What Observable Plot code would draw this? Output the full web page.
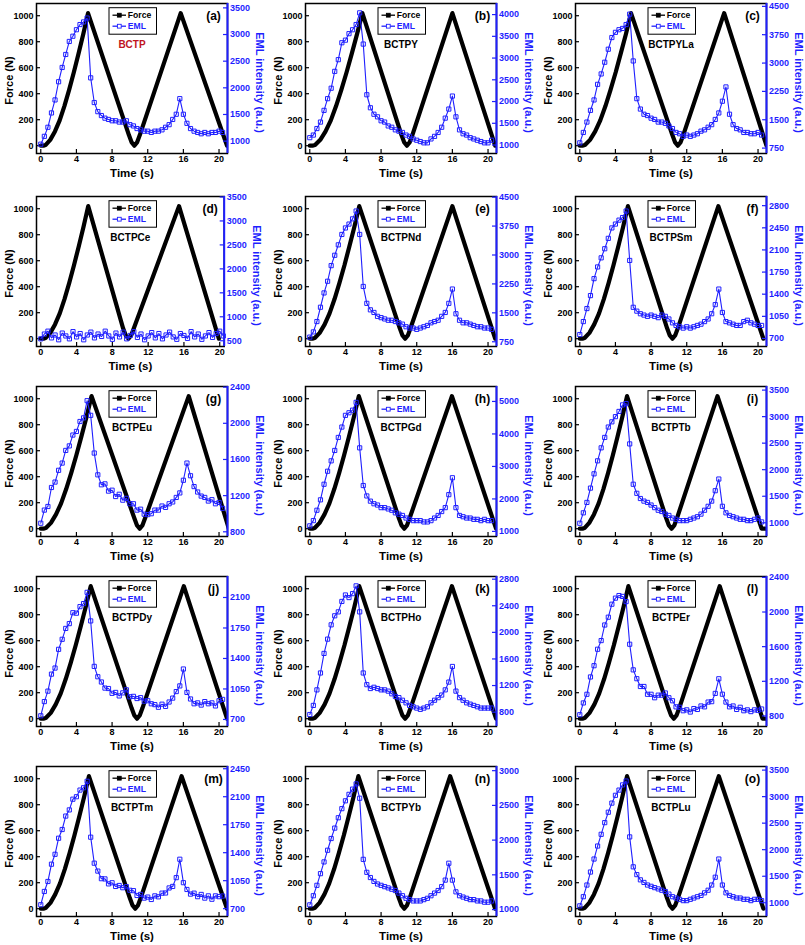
<!DOCTYPE html>
<html><head><meta charset="utf-8">
<script src="https://cdn.jsdelivr.net/npm/d3@7"></script>
<script src="https://cdn.jsdelivr.net/npm/@observablehq/plot@0.6"></script>
<style>
html,body{margin:0;padding:0;background:#fff;}
#fig{position:relative;width:805px;height:945px;overflow:hidden;background:#fff;}
.panel{position:absolute;}
.panel svg{position:absolute;left:0;top:0;}
</style></head><body><div id="fig"></div>
<script>
// ---------------- data ----------------
const panelIds = ["(a)","(b)","(c)","(d)","(e)","(f)","(g)","(h)","(i)","(j)","(k)","(l)","(m)","(n)","(o)"];
const sampleNames = ["BCTP","BCTPY","BCTPYLa","BCTPCe","BCTPNd","BCTPSm","BCTPEu","BCTPGd","BCTPTb","BCTPDy","BCTPHo","BCTPEr","BCTPTm","BCTPYb","BCTPLu"];
const timeTicks = [0,4,8,12,16,20];
const forceTicks = [0,200,400,600,800,1000];
const forceRange = [-60, 1094];

// EML sampling times (s)
const time = [0,0.4,0.8,1.2,1.6,2.0,2.4,2.8,3.2,3.6,4.0,4.4,4.8,5.2,5.6,6.0,6.4,6.8,7.2,7.6,8.0,8.4,8.8,9.2,9.6,10.0,10.4,10.8,11.2,11.6,12.0,12.4,12.8,13.2,13.6,14.0,14.4,14.8,15.2,15.6,16.0,16.4,16.8,17.2,17.6,18.0,18.4,18.8,19.2,19.6,20.0,20.4];

// EML intensity (a.u.)
const emlA = [943,1090,1260,1529,1773,2114,2382,2626,2870,2968,3090,3187,3236,3309,2187,1724,1553,1480,1431,1407,1382,1382,1358,1358,1382,1309,1285,1236,1212,1187,1187,1163,1187,1187,1212,1260,1309,1407,1504,1797,1504,1334,1236,1187,1163,1138,1163,1138,1163,1163,1187,1163];
const emlB = [1169,1229,1379,1528,1797,2066,2306,2694,2963,3352,3412,3561,3651,3771,4040,3322,2156,1857,1708,1648,1558,1528,1439,1409,1349,1319,1289,1229,1199,1140,1110,1080,1050,1050,1140,1199,1289,1409,1618,1827,2126,1648,1349,1259,1229,1169,1140,1110,1080,1050,1050,1110];
const emlC = [889,1164,1439,1749,2024,2437,2712,3022,3366,3675,3813,3882,3916,4019,4294,3056,2058,1783,1646,1611,1542,1508,1439,1439,1405,1336,1267,1164,1130,1061,1095,1061,1095,1130,1198,1233,1302,1370,1508,1680,1990,2368,1646,1370,1267,1233,1164,1164,1130,1130,1164,1095];
const emlD = [540,640,700,560,620,520,660,600,540,690,580,650,520,620,680,560,640,590,700,600,530,660,580,680,540,610,690,570,640,520,600,670,560,650,540,620,680,580,530,650,610,550,690,580,640,530,600,670,570,650,700,600];
const emlE = [870,1005,1274,1645,2016,2319,2724,2993,3263,3533,3701,3802,3937,4140,3533,2184,1746,1578,1510,1409,1375,1342,1308,1308,1274,1241,1207,1139,1106,1106,1072,1106,1139,1173,1241,1274,1308,1409,1510,1746,2117,1476,1308,1241,1241,1207,1173,1139,1139,1106,1106,1072];
const emlF = [762,967,1173,1378,1646,1831,1975,2119,2283,2448,2509,2571,2612,2715,1934,1193,1132,1091,1070,1050,1070,1050,1029,1070,1050,1008,947,906,885,864,885,864,885,906,926,967,1008,1091,1235,1481,1111,967,947,926,906,906,967,988,947,926,906,906];
const emlG = [895,1040,1080,1290,1350,1480,1560,1700,1750,1870,1910,2020,2060,2250,2088,1671,1430,1320,1330,1250,1260,1190,1215,1150,1170,1110,1110,1040,1050,995,990,1000,1040,1040,1085,1070,1110,1130,1180,1230,1370,1560,1420,1300,1240,1195,1180,1140,1155,1110,1125,1060];
const emlH = [1172,1332,1652,1972,2452,2852,3172,3492,3892,4212,4572,4652,4732,4972,3572,2412,2092,1932,1852,1812,1732,1732,1692,1652,1572,1532,1492,1412,1372,1332,1332,1332,1292,1292,1332,1412,1492,1612,1732,2132,2652,1732,1492,1452,1412,1412,1372,1372,1332,1372,1332,1332];
const emlI = [991,1187,1383,1653,1922,2167,2412,2608,2804,2902,3000,3098,3221,3245,2486,1726,1555,1457,1408,1383,1334,1285,1236,1212,1163,1138,1089,1065,1040,1040,1040,1065,1089,1114,1163,1236,1310,1408,1604,1824,1310,1187,1138,1114,1089,1065,1065,1040,1040,1065,1089,1016];
const emlJ = [742,905,1025,1220,1290,1505,1620,1745,1800,1925,1920,1995,2030,2159,1831,1309,1190,1130,1060,1055,1000,1010,970,1005,1040,960,965,940,950,910,915,880,870,840,875,850,900,945,1020,1085,1279,1010,935,880,890,865,905,880,890,855,915,930];
const emlK = [764,901,1135,1389,1683,1898,2113,2249,2308,2465,2562,2523,2582,2699,2308,1389,1213,1155,1174,1155,1135,1135,1116,1076,1037,1018,979,940,901,881,861,842,861,881,940,979,1018,1057,1135,1252,1487,1116,1018,979,940,920,901,881,861,861,861,861];
const emlL = [814,950,1050,1250,1380,1570,1670,1850,1940,2090,2160,2190,2180,2120,1628,1332,1230,1140,1140,1050,1050,1010,1040,1040,1065,1010,975,905,900,860,870,845,885,875,915,905,960,965,1060,1229,1051,960,905,915,875,900,860,870,850,870,865,880];
const emlM = [749,915,1040,1256,1380,1581,1690,1858,1935,2069,2100,2183,2212,2293,1594,1269,1170,1075,1072,1010,1024,978,990,962,975,930,925,865,878,832,845,815,860,848,894,896,959,978,1088,1318,1025,940,882,894,850,878,832,860,818,860,850,858];
const emlN = [1068,1199,1349,1517,1686,1854,2023,2173,2322,2453,2566,2659,2734,2809,2603,1723,1536,1461,1405,1368,1349,1330,1312,1293,1274,1237,1199,1162,1143,1124,1124,1124,1143,1162,1199,1237,1274,1330,1424,1667,1424,1255,1199,1180,1162,1143,1143,1124,1124,1106,1106,1124];
const emlO = [942,1114,1334,1579,1824,2069,2290,2510,2706,2878,3025,3123,3221,3294,2241,1677,1530,1432,1383,1334,1310,1285,1261,1236,1212,1163,1114,1089,1065,1040,1040,1065,1089,1114,1138,1187,1236,1334,1481,1824,1334,1187,1138,1114,1089,1089,1065,1065,1040,1065,1065,1040];

// Force (N): [time, force]
const forceA = [[0,0],[0.3,0],[0.53,5],[1.06,45],[1.59,110],[2.12,195],[2.65,305],[3.18,430],[3.71,565],[4.24,710],[4.77,860],[5.3,1020],[9.9,80],[10.2,25],[10.5,0],[10.8,25],[11.1,80],[15.7,1020],[20.9,0]];
const forceB = [[0,0],[0.3,0],[0.59,5],[1.18,45],[1.77,110],[2.36,195],[2.95,305],[3.54,430],[4.13,565],[4.72,710],[5.31,860],[5.9,1020],[10.3,80],[10.6,25],[10.9,0],[11.2,25],[11.5,80],[16.0,1020],[20.8,0]];
const forceC = [[0,0],[0.3,0],[0.58,5],[1.15,45],[1.73,110],[2.3,195],[2.88,305],[3.45,430],[4.03,565],[4.6,710],[5.18,860],[5.75,1020],[10.4,80],[10.7,25],[11.0,0],[11.3,25],[11.6,80],[16.2,1020],[20.95,0]];
const forceD = [[0,0],[0.3,0],[0.53,5],[1.06,45],[1.59,110],[2.12,195],[2.65,305],[3.18,430],[3.71,565],[4.24,710],[4.77,860],[5.3,1020],[9.2,80],[9.5,25],[9.8,0],[10.1,25],[10.4,80],[15.45,1020],[19.9,0]];
const forceE = [[0,0],[0.3,0],[0.56,5],[1.11,45],[1.67,110],[2.22,195],[2.78,305],[3.33,430],[3.89,565],[4.44,710],[5.0,860],[5.55,1020],[10.1,80],[10.4,25],[10.7,0],[11.0,25],[11.3,80],[16.0,1020],[20.8,0]];
const forceF = [[0,0],[0.3,0],[0.54,5],[1.08,45],[1.62,110],[2.16,195],[2.7,305],[3.24,430],[3.78,565],[4.32,710],[4.86,860],[5.4,1020],[9.8,80],[10.1,25],[10.4,0],[10.7,25],[11.0,80],[15.55,1020],[20.6,0]];
const forceG = [[0,0],[0.3,0],[0.57,5],[1.14,45],[1.71,110],[2.28,195],[2.85,305],[3.42,430],[3.99,565],[4.56,710],[5.13,860],[5.7,1020],[10.5,80],[10.8,25],[11.1,0],[11.4,25],[11.7,80],[16.6,1020],[21.1,0]];
const forceH = [[0,0],[0.3,0],[0.55,5],[1.1,45],[1.65,110],[2.2,195],[2.75,305],[3.3,430],[3.85,565],[4.4,710],[4.95,860],[5.5,1020],[10.0,80],[10.3,25],[10.6,0],[10.9,25],[11.2,80],[15.95,1020],[20.9,0]];
const forceI = [[0,0],[0.3,0],[0.53,5],[1.06,45],[1.59,110],[2.12,195],[2.65,305],[3.18,430],[3.71,565],[4.24,710],[4.77,860],[5.3,1020],[9.7,80],[10.0,25],[10.3,0],[10.6,25],[10.9,80],[15.45,1020],[20.4,0],[20.8,0]];
const forceJ = [[0,0],[0.3,0],[0.56,5],[1.12,45],[1.68,110],[2.24,195],[2.8,305],[3.36,430],[3.92,565],[4.48,710],[5.04,860],[5.6,1020],[10.2,80],[10.5,25],[10.8,0],[11.1,25],[11.4,80],[16.05,1020],[20.9,0]];
const forceK = [[0,0],[0.3,0],[0.56,5],[1.11,45],[1.67,110],[2.22,195],[2.78,305],[3.33,430],[3.89,565],[4.44,710],[5.0,860],[5.55,1020],[10.1,80],[10.4,25],[10.7,0],[11.0,25],[11.3,80],[15.95,1020],[20.9,0]];
const forceL = [[0,0],[0.3,0],[0.55,5],[1.09,45],[1.64,110],[2.18,195],[2.73,305],[3.27,430],[3.82,565],[4.36,710],[4.91,860],[5.45,1020],[9.95,80],[10.25,25],[10.55,0],[10.85,25],[11.15,80],[15.7,1020],[20.5,0],[20.8,0]];
const forceM = [[0,0],[0.3,0],[0.54,5],[1.08,45],[1.62,110],[2.16,195],[2.7,305],[3.24,430],[3.78,565],[4.32,710],[4.86,860],[5.4,1020],[10.0,80],[10.3,25],[10.6,0],[10.9,25],[11.2,80],[15.8,1020],[20.9,0]];
const forceN = [[0,0],[0.3,0],[0.55,5],[1.09,45],[1.64,110],[2.18,195],[2.73,305],[3.27,430],[3.82,565],[4.36,710],[4.91,860],[5.45,1020],[10.0,80],[10.3,25],[10.6,0],[10.9,25],[11.2,80],[15.75,1020],[20.8,0]];
const forceO = [[0,0],[0.3,0],[0.53,5],[1.06,45],[1.59,110],[2.12,195],[2.65,305],[3.18,430],[3.71,565],[4.24,710],[4.77,860],[5.3,1020],[9.8,80],[10.1,25],[10.4,0],[10.7,25],[11.0,80],[15.6,1020],[20.6,0]];

// right-axis (EML) ranges and tick labels
const emlRanges = [[768,3582],[805,4255],[607,4576],[380,3510],[627,4517],[573,2945],[748,2407],[844,5460],[741,3568],[619,2341],[584,2840],[678,2410],[602,2478],[900,3060],[741,3568]];
const emlTicksA = [1000,1500,2000,2500,3000,3500];
const emlTicksB = [1000,1500,2000,2500,3000,3500,4000];
const emlTicksC = [750,1500,2250,3000,3750,4500];
const emlTicksD = [500,1000,1500,2000,2500,3000,3500];
const emlTicksE = [750,1500,2250,3000,3750,4500];
const emlTicksF = [700,1050,1400,1750,2100,2450,2800];
const emlTicksG = [800,1200,1600,2000,2400];
const emlTicksH = [1000,2000,3000,4000,5000];
const emlTicksI = [1000,1500,2000,2500,3000,3500];
const emlTicksJ = [700,1050,1400,1750,2100];
const emlTicksK = [800,1200,1600,2000,2400,2800];
const emlTicksL = [800,1200,1600,2000,2400];
const emlTicksM = [700,1050,1400,1750,2100,2450];
const emlTicksN = [1000,1500,2000,2500,3000];
const emlTicksO = [1000,1500,2000,2500,3000,3500];
const timeMax = [20.95,20.95,20.95,20.5,20.95,20.95,20.95,20.95,20.95,20.95,20.95,20.95,20.95,20.95,20.95];

// ---------------- build ----------------
const emlSeries = [emlA,emlB,emlC,emlD,emlE,emlF,emlG,emlH,emlI,emlJ,emlK,emlL,emlM,emlN,emlO];
const forceSeries = [forceA,forceB,forceC,forceD,forceE,forceF,forceG,forceH,forceI,forceJ,forceK,forceL,forceM,forceN,forceO];
const emlTickSets = [emlTicksA,emlTicksB,emlTicksC,emlTicksD,emlTicksE,emlTicksF,emlTicksG,emlTicksH,emlTicksI,emlTicksJ,emlTicksK,emlTicksL,emlTicksM,emlTicksN,emlTicksO];

const BLUE = "#1f1fff";
const FONT = "'Liberation Sans', Arial, Helvetica, sans-serif";
const colLeft = [0.5, 270, 539.5];
const rowTop = [0.5, 194, 383.5, 574, 764];
const W = 266, H = 182, ML = 35, MT = 2, MB = 30;
const fig = document.getElementById("fig");

panelIds.forEach((id, i) => {
  const r = Math.floor(i / 3), c = i % 3;
  const mr = (i === 3) ? 43.3 : 40;
  const frameW = W - ML - mr;
  const frameH = H - MT - MB;
  const div = document.createElement("div");
  div.className = "panel";
  div.style.left = colLeft[c] + "px";
  div.style.top = rowTop[r] + "px";
  div.style.width = W + "px";
  div.style.height = H + "px";
  fig.appendChild(div);

  const style = {fontFamily: FONT, fontSize: "9px", fontWeight: "bold", background: "transparent", overflow: "visible"};
  const common = {width: W, height: H, marginLeft: ML, marginRight: mr, marginTop: MT, marginBottom: MB, style};

  const fplot = Plot.plot({
    ...common,
    x: {domain: [-0.48, timeMax[i]]},
    y: {domain: forceRange},
    marks: [
      Plot.line(forceSeries[i], {x: d => d[0], y: d => d[1], stroke: "#000", strokeWidth: 4.2, strokeLinejoin: "round", clip: true}),
      Plot.frame({stroke: "#000", strokeWidth: 1.5}),
      Plot.tickX(timeTicks, {x: d => d, insetTop: frameH - 4, stroke: "#000", strokeWidth: 1.2}),
      Plot.tickY(forceTicks, {y: d => d, insetRight: frameW - 4, stroke: "#000", strokeWidth: 1.2}),
      Plot.axisX(timeTicks, {tickSize: 0, tickPadding: 2, label: null, tickFormat: d3.format("d")}),
      Plot.axisY(forceTicks, {tickSize: 0, tickPadding: 3, label: null, tickFormat: d3.format("d")}),
      Plot.text(["Force (N)"], {text: d => d, frameAnchor: "left", dx: -27, dy: 2, rotate: -90, textAnchor: "middle", lineAnchor: "middle", fontSize: 11, fontWeight: "bold"}),
      Plot.text(["Time (s)"], {text: d => d, frameAnchor: "bottom", dy: 20, textAnchor: "middle", lineAnchor: "middle", fontSize: 11.5, fontWeight: "bold"}),
      Plot.text([id], {text: d => d, frameAnchor: "top-right", dx: -14, dy: 13, textAnchor: "middle", lineAnchor: "middle", fontSize: 12, fontWeight: "bold"}),
      Plot.text([sampleNames[i]], {text: d => d, frameAnchor: "top", dy: 41, textAnchor: "middle", lineAnchor: "middle", fontSize: 10, fontWeight: "bold", fill: i === 0 ? "#c0141e" : "#000"})
    ]
  });

  const rows = time.map((t, k) => ({t, v: emlSeries[i][k]}));
  const eplot = Plot.plot({
    ...common,
    x: {domain: [-0.48, timeMax[i]], axis: null},
    y: {domain: emlRanges[i]},
    marks: [
      Plot.line(rows, {x: "t", y: "v", stroke: BLUE, strokeWidth: 1.1}),
      Plot.dot(rows, {x: "t", y: "v", symbol: "square", r: 2.35, stroke: BLUE, strokeWidth: 1, fill: "none"}),
      Plot.ruleX([timeMax[i]], {stroke: BLUE, strokeWidth: 2}),
      Plot.tickY(emlTickSets[i], {y: d => d, insetLeft: frameW - 4, stroke: BLUE, strokeWidth: 1.2}),
      Plot.axisY(emlTickSets[i], {anchor: "right", tickSize: 0, tickPadding: 2.5, label: null, fill: BLUE, tickFormat: d3.format("d")}),
      Plot.text(["EML intensity (a.u.)"], {text: d => d, frameAnchor: "right", dx: 32, dy: 4, rotate: 90, textAnchor: "middle", lineAnchor: "middle", fontSize: 11, fontWeight: "bold", fill: BLUE})
    ]
  });

  div.appendChild(fplot);
  div.appendChild(eplot);

  // legend box
  const svg = d3.select(eplot);
  const lx = ML + 73, ly = MT + 4.7;
  const g = svg.append("g").attr("text-anchor", "start");
  g.append("rect").attr("x", lx).attr("y", ly).attr("width", 47.5).attr("height", 26.5)
    .attr("fill", "#fff").attr("stroke", "#000").attr("stroke-width", 1);
  const entries = [{label: "Force", color: "#000", fill: "#000", yy: ly + 7.5},
                   {label: "EML", color: BLUE, fill: "#fff", yy: ly + 18.5}];
  entries.forEach(e => {
    g.append("line").attr("x1", lx + 3.5).attr("x2", lx + 17).attr("y1", e.yy).attr("y2", e.yy)
      .attr("stroke", e.color).attr("stroke-width", 1.3);
    g.append("rect").attr("x", lx + 8.4).attr("y", e.yy - 1.9).attr("width", 3.8).attr("height", 3.8)
      .attr("fill", e.fill).attr("stroke", e.color).attr("stroke-width", 0.9);
    g.append("text").attr("x", lx + 18.8).attr("y", e.yy).attr("dy", "0.35em")
      .attr("text-anchor", "start")
      .attr("fill", e.color).attr("font-size", 8.6).attr("font-weight", "bold").attr("font-family", FONT)
      .text(e.label);
  });
});
</script>
</body></html>
